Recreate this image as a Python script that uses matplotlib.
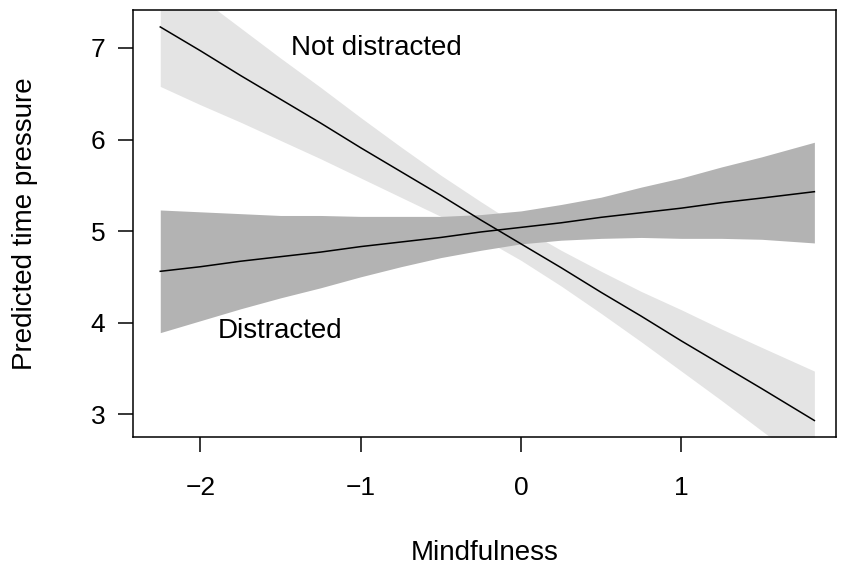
import matplotlib
matplotlib.use("Agg")
import matplotlib.pyplot as plt
import numpy as np

plt.rcParams['font.family'] = ['Liberation Sans', 'DejaVu Sans']

# mindfulness grid (x)
mindfulness = [-2.25, -2.0, -1.75, -1.5, -1.25, -1.0, -0.75, -0.5, -0.25,
               0.0, 0.25, 0.5, 0.75, 1.0, 1.25, 1.5, 1.83]

# not distracted: fit and band
nd_fit = [7.23, 6.97, 6.70, 6.44, 6.18, 5.91, 5.65, 5.39, 5.12,
          4.86, 4.60, 4.33, 4.07, 3.80, 3.54, 3.28, 2.93]
nd_lower = [6.58, 6.38, 6.19, 5.99, 5.79, 5.58, 5.37, 5.16, 4.93,
            4.68, 4.40, 4.10, 3.79, 3.47, 3.15, 2.82, 2.39]
nd_upper = [7.88, 7.55, 7.22, 6.89, 6.57, 6.24, 5.92, 5.61, 5.32,
            5.04, 4.79, 4.56, 4.34, 4.14, 3.93, 3.73, 3.47]

# distracted: fit and band
d_fit = [4.56, 4.61, 4.67, 4.72, 4.77, 4.83, 4.88, 4.93, 4.99,
         5.04, 5.09, 5.15, 5.20, 5.25, 5.31, 5.36, 5.43]
d_lower = [3.89, 4.02, 4.15, 4.27, 4.38, 4.50, 4.61, 4.71, 4.79,
           4.86, 4.90, 4.92, 4.93, 4.92, 4.92, 4.91, 4.87]
d_upper = [5.23, 5.21, 5.19, 5.17, 5.17, 5.16, 5.16, 5.16, 5.18,
           5.22, 5.29, 5.37, 5.48, 5.58, 5.70, 5.81, 5.97]

x_ticks = [-2, -1, 0, 1]
y_ticks = [3, 4, 5, 6, 7]

fig = plt.figure(figsize=(8.51, 5.71), dpi=100)
ax = fig.add_axes([0.1563, 0.2347, 0.8261, 0.7478])

ax.fill_between(mindfulness, nd_lower, nd_upper, color='#e4e4e4', lw=0)
ax.fill_between(mindfulness, d_lower, d_upper, color='#b3b3b3', lw=0)
ax.plot(mindfulness, nd_fit, color='black', lw=1.1)
ax.plot(mindfulness, d_fit, color='black', lw=1.1)

ax.text(-0.905, 7.0, 'Not distracted', fontsize=20, ha='center', va='center')
ax.text(-1.50, 3.91, 'Distracted', fontsize=20, ha='center', va='center')

ax.set_xlim(-2.42, 1.965)
ax.set_ylim(2.75, 7.415)
ax.set_xticks(x_ticks)
ax.set_yticks(y_ticks)
ax.tick_params(labelsize=19, length=11, width=1.1)
ax.tick_params(axis='x', pad=17)
ax.tick_params(axis='y', pad=9)
for s in ax.spines.values():
    s.set_linewidth(1.1)

ax.set_xlabel('Mindfulness', fontsize=20, labelpad=29)
ax.set_ylabel('Predicted time pressure', fontsize=20, labelpad=38)

fig.savefig('out.png', dpi=100)
